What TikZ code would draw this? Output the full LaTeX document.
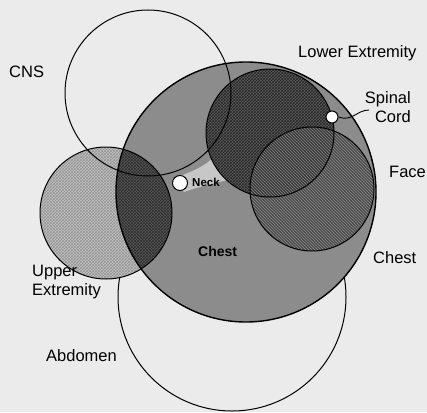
\documentclass[tikz,border=0pt]{standalone}
\usepackage{fontspec}
\setmainfont{Liberation Sans}
\usetikzlibrary{patterns}
\begin{document}
\begin{tikzpicture}[x=1pt,y=-1pt,
  lbl/.style={font=\fontsize{16.5}{19}\selectfont, inner sep=0pt, text=black},
  outline/.style={draw=black, line width=1pt},
  dot/.style={circle, draw=black, line width=1pt, fill=white, inner sep=0pt, minimum size=#1}]
\useasboundingbox (0,0) rectangle (427,412);
\fill[black!8] (0,0) rectangle (427,412);
% abdomen outline (hidden under chest)
\draw[outline] (232,297) circle[radius=114];
% upper extremity
\fill[black!24] (106,213) circle[radius=66];
\fill[pattern=crosshatch, pattern color=black!42] (106,213) circle[radius=66];
% chest
\fill[black!45] (246,192) circle[radius=130];
\begin{scope}
  \clip (246,192) circle[radius=130];
  \fill[black!66] (106,213) circle[radius=66];
  \fill[pattern=crosshatch, pattern color=black!82] (106,213) circle[radius=66];
\end{scope}
% neck light patch
\fill[black!22] (174,178) .. controls (192,172) and (205,166) .. (214,157)
  -- (228,180) .. controls (210,184) and (195,188) .. (184,192) -- cycle;
% lower extremity
\fill[black!64] (270,133) circle[radius=64];
\fill[pattern=crosshatch, pattern color=black!85] (270,133) circle[radius=64];
% face
\fill[black!70] (312,189) circle[radius=62];
\begin{scope}
  \clip (270,133) circle[radius=64];
  \fill[black!78] (312,189) circle[radius=62];
\end{scope}
\fill[pattern=north west lines, pattern color=black!45] (312,189) circle[radius=62];
% outlines
\draw[outline] (106,213) circle[radius=66];
\draw[outline] (148,93) circle[radius=83];
\draw[outline] (270,133) circle[radius=64];
\draw[outline] (312,189) circle[radius=62];
\draw[draw=black, line width=1.4pt] (246,192) circle[radius=130];
% small markers
\node[dot=15pt] (neck) at (180,183) {};
\node[dot=12pt] (sc) at (332,117) {};
% labels
\node[lbl, anchor=base west] (cns) at (9,77) {CNS};
\node[lbl, anchor=base west] (lower) at (298,57) {Lower Extremity};
\node[lbl, anchor=east, align=right] (spinal) at (411,107) {Spinal\\Cord};
\node[lbl, anchor=base west] (face) at (389,177) {Face};
\node[lbl, anchor=base west] (chestout) at (373,263) {Chest};
\node[lbl, anchor=base west, align=left] (upper) at (32,295) {Upper\\Extremity};
\node[lbl, anchor=base west] (abd) at (46,361) {Abdomen};
\node[inner sep=0pt, anchor=base west, font=\fontsize{14}{16}\selectfont\bfseries] (chestin) at (198,256) {Chest};
\node[inner sep=0pt, anchor=base west, font=\fontsize{11.5}{13}\selectfont\bfseries] (necklbl) at (192,186) {Neck};
% spinal cord leader
\coordinate (scend) at (369,110);
\draw[line width=0.9pt] (sc.east) .. controls (352,122) and (357,110) .. (scend);
\end{tikzpicture}
\end{document}
